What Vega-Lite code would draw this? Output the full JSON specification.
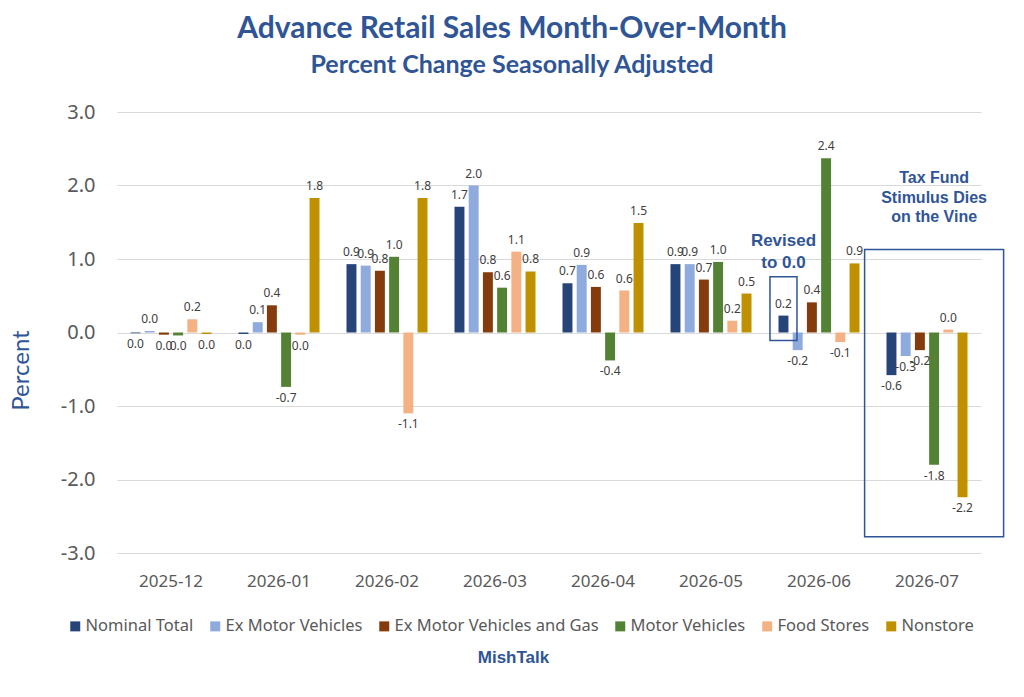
{
  "$schema": "https://vega.github.io/schema/vega-lite/v6.json",
  "autosize": {"type": "none"},
  "width": 864,
  "height": 441,
  "padding": {"left": 117, "top": 112, "right": 43, "bottom": 144},
  "background": "white",
  "config": {
    "view": {"stroke": null},
    "locale": {"number": {"decimal": ".", "thousands": ",", "grouping": [3], "currency": ["$", ""], "minus": "-"}},
    "font": "Noto Sans"
  },
  "title": {
    "text": "Advance Retail Sales Month-Over-Month",
    "subtitle": "Percent Change Seasonally Adjusted",
    "anchor": "middle",
    "frame": "group",
    "dx": -37,
    "offset": 24,
    "font": "Lato",
    "fontSize": 30,
    "fontWeight": "bold",
    "color": "#2F5597",
    "subtitleFont": "Lato",
    "subtitleFontSize": 25,
    "subtitleFontWeight": "bold",
    "subtitleColor": "#2F5597",
    "subtitlePadding": 9
  },
  "datasets": {
    "sales": [
      {"month": "2025-12", "series": "Nominal Total", "value": -0.01},
      {"month": "2025-12", "series": "Ex Motor Vehicles", "value": 0.02},
      {"month": "2025-12", "series": "Ex Motor Vehicles and Gas", "value": -0.03},
      {"month": "2025-12", "series": "Motor Vehicles", "value": -0.04},
      {"month": "2025-12", "series": "Food Stores", "value": 0.18},
      {"month": "2025-12", "series": "Nonstore", "value": -0.02},
      {"month": "2026-01", "series": "Nominal Total", "value": -0.02},
      {"month": "2026-01", "series": "Ex Motor Vehicles", "value": 0.14},
      {"month": "2026-01", "series": "Ex Motor Vehicles and Gas", "value": 0.37},
      {"month": "2026-01", "series": "Motor Vehicles", "value": -0.74},
      {"month": "2026-01", "series": "Food Stores", "value": -0.03},
      {"month": "2026-01", "series": "Nonstore", "value": 1.83},
      {"month": "2026-02", "series": "Nominal Total", "value": 0.93},
      {"month": "2026-02", "series": "Ex Motor Vehicles", "value": 0.91},
      {"month": "2026-02", "series": "Ex Motor Vehicles and Gas", "value": 0.84},
      {"month": "2026-02", "series": "Motor Vehicles", "value": 1.03},
      {"month": "2026-02", "series": "Food Stores", "value": -1.1},
      {"month": "2026-02", "series": "Nonstore", "value": 1.83},
      {"month": "2026-03", "series": "Nominal Total", "value": 1.71},
      {"month": "2026-03", "series": "Ex Motor Vehicles", "value": 2.0},
      {"month": "2026-03", "series": "Ex Motor Vehicles and Gas", "value": 0.82},
      {"month": "2026-03", "series": "Motor Vehicles", "value": 0.61},
      {"month": "2026-03", "series": "Food Stores", "value": 1.1},
      {"month": "2026-03", "series": "Nonstore", "value": 0.83},
      {"month": "2026-04", "series": "Nominal Total", "value": 0.67},
      {"month": "2026-04", "series": "Ex Motor Vehicles", "value": 0.92},
      {"month": "2026-04", "series": "Ex Motor Vehicles and Gas", "value": 0.62},
      {"month": "2026-04", "series": "Motor Vehicles", "value": -0.38},
      {"month": "2026-04", "series": "Food Stores", "value": 0.57},
      {"month": "2026-04", "series": "Nonstore", "value": 1.49},
      {"month": "2026-05", "series": "Nominal Total", "value": 0.93},
      {"month": "2026-05", "series": "Ex Motor Vehicles", "value": 0.93},
      {"month": "2026-05", "series": "Ex Motor Vehicles and Gas", "value": 0.72},
      {"month": "2026-05", "series": "Motor Vehicles", "value": 0.96},
      {"month": "2026-05", "series": "Food Stores", "value": 0.16},
      {"month": "2026-05", "series": "Nonstore", "value": 0.53},
      {"month": "2026-06", "series": "Nominal Total", "value": 0.23},
      {"month": "2026-06", "series": "Ex Motor Vehicles", "value": -0.24},
      {"month": "2026-06", "series": "Ex Motor Vehicles and Gas", "value": 0.41},
      {"month": "2026-06", "series": "Motor Vehicles", "value": 2.37},
      {"month": "2026-06", "series": "Food Stores", "value": -0.13},
      {"month": "2026-06", "series": "Nonstore", "value": 0.94},
      {"month": "2026-07", "series": "Nominal Total", "value": -0.58},
      {"month": "2026-07", "series": "Ex Motor Vehicles", "value": -0.32},
      {"month": "2026-07", "series": "Ex Motor Vehicles and Gas", "value": -0.24},
      {"month": "2026-07", "series": "Motor Vehicles", "value": -1.8},
      {"month": "2026-07", "series": "Food Stores", "value": 0.04},
      {"month": "2026-07", "series": "Nonstore", "value": -2.24}
    ],
    "bigbox": [
      {"month": "2026-07", "series": "Motor Vehicles", "top": 1.13, "bottom": -2.78}
    ],
    "smallbox": [
      {"month": "2026-06", "series": "Nominal Total", "top": 0.76, "bottom": -0.11}
    ],
    "revised": [
      {"month": "2026-06", "series": "Nominal Total", "y": 1.24, "label": "Revised\nto 0.0"}
    ],
    "stimulus": [
      {"month": "2026-07", "series": "Motor Vehicles", "y": 2.1, "label": "Tax Fund\nStimulus Dies\non the Vine"}
    ]
  },
  "encoding": {
    "x": {
      "field": "month",
      "type": "nominal",
      "scale": {"paddingInner": 0.25, "paddingOuter": 0.125},
      "axis": {
        "title": "MishTalk",
        "titleFont": "Liberation Sans",
        "titleFontSize": 17,
        "titleFontWeight": "bold",
        "titleColor": "#2F5597",
        "titleX": 396,
        "titleY": 104,
        "titleBaseline": "middle",
        "labelAngle": 0,
        "labelFontSize": 17,
        "labelColor": "#595959",
        "labelPadding": 20,
        "domain": false,
        "ticks": false,
        "grid": false
      }
    }
  },
  "layer": [
    {
      "data": {"name": "sales"},
      "mark": {"type": "bar"},
      "encoding": {
        "xOffset": {
          "field": "series",
          "type": "nominal",
          "sort": ["Nominal Total", "Ex Motor Vehicles", "Ex Motor Vehicles and Gas", "Motor Vehicles", "Food Stores", "Nonstore"],
          "scale": {"paddingInner": 0.3, "paddingOuter": 0}
        },
        "y": {
          "field": "value",
          "type": "quantitative",
          "scale": {"domain": [-3, 3], "nice": false},
          "axis": {
            "title": "Percent",
            "titleFont": "Lato",
            "titleFontSize": 24,
            "titleFontWeight": "normal",
            "titleColor": "#2F5597",
            "titleX": -96,
            "titleY": 258,
            "titleBaseline": "middle",
            "values": [-3, -2, -1, 0, 1, 2, 3],
            "format": ".1f",
            "labelFontSize": 20,
            "labelColor": "#595959",
            "labelPadding": 22,
            "domain": false,
            "ticks": false,
            "gridColor": "#D9D9D9",
            "gridWidth": 1.2
          }
        },
        "color": {
          "field": "series",
          "type": "nominal",
          "sort": ["Nominal Total", "Ex Motor Vehicles", "Ex Motor Vehicles and Gas", "Motor Vehicles", "Food Stores", "Nonstore"],
          "scale": {
            "domain": ["Nominal Total", "Ex Motor Vehicles", "Ex Motor Vehicles and Gas", "Motor Vehicles", "Food Stores", "Nonstore"],
            "range": ["#264478", "#8FAADC", "#843C0C", "#548235", "#F4B183", "#BF9000"]
          },
          "legend": {
            "title": null,
            "orient": "none",
            "legendX": -50,
            "legendY": 506,
            "direction": "horizontal",
            "symbolType": "square",
            "symbolSize": 100,
            "symbolStrokeWidth": 0,
            "labelFontSize": 16.5,
            "labelColor": "#595959",
            "labelOffset": 2,
            "labelLimit": 0,
            "columnPadding": 13
          }
        }
      }
    },
    {
      "data": {"name": "sales"},
      "transform": [{"filter": "datum.value >= 0"}],
      "mark": {"type": "text", "baseline": "bottom", "dy": -5, "fontSize": 12, "color": "#404040"},
      "encoding": {
        "xOffset": {"field": "series", "type": "nominal", "sort": ["Nominal Total", "Ex Motor Vehicles", "Ex Motor Vehicles and Gas", "Motor Vehicles", "Food Stores", "Nonstore"]},
        "y": {"field": "value", "type": "quantitative"},
        "text": {"field": "value", "type": "quantitative", "format": ".1f"}
      }
    },
    {
      "data": {"name": "sales"},
      "transform": [{"filter": "datum.value < 0"}],
      "mark": {"type": "text", "baseline": "top", "dy": 6, "fontSize": 12, "color": "#404040"},
      "encoding": {
        "xOffset": {"field": "series", "type": "nominal", "sort": ["Nominal Total", "Ex Motor Vehicles", "Ex Motor Vehicles and Gas", "Motor Vehicles", "Food Stores", "Nonstore"]},
        "y": {"field": "value", "type": "quantitative"},
        "text": {"field": "value", "type": "quantitative", "format": ".1f"}
      }
    },
    {
      "data": {"name": "bigbox"},
      "mark": {"type": "bar", "fillOpacity": 0, "stroke": "#2F5597", "strokeWidth": 1.5, "width": 139},
      "encoding": {
        "xOffset": {"field": "series", "type": "nominal", "sort": ["Nominal Total", "Ex Motor Vehicles", "Ex Motor Vehicles and Gas", "Motor Vehicles", "Food Stores", "Nonstore"]},
        "y": {"field": "top", "type": "quantitative"},
        "y2": {"field": "bottom"}
      }
    },
    {
      "data": {"name": "smallbox"},
      "mark": {"type": "bar", "fillOpacity": 0, "stroke": "#2F5597", "strokeWidth": 1.5, "width": 27},
      "encoding": {
        "xOffset": {"field": "series", "type": "nominal", "sort": ["Nominal Total", "Ex Motor Vehicles", "Ex Motor Vehicles and Gas", "Motor Vehicles", "Food Stores", "Nonstore"]},
        "y": {"field": "top", "type": "quantitative"},
        "y2": {"field": "bottom"}
      }
    },
    {
      "data": {"name": "revised"},
      "mark": {"type": "text", "font": "Liberation Sans", "fontSize": 17, "fontWeight": "bold", "color": "#2F5597", "lineBreak": "\n", "lineHeight": 22, "baseline": "middle", "align": "center"},
      "encoding": {
        "xOffset": {"field": "series", "type": "nominal", "sort": ["Nominal Total", "Ex Motor Vehicles", "Ex Motor Vehicles and Gas", "Motor Vehicles", "Food Stores", "Nonstore"]},
        "y": {"field": "y", "type": "quantitative"},
        "text": {"field": "label"}
      }
    },
    {
      "data": {"name": "stimulus"},
      "mark": {"type": "text", "font": "Liberation Sans", "fontSize": 16, "fontWeight": "bold", "color": "#2F5597", "lineBreak": "\n", "lineHeight": 19.5, "baseline": "middle", "align": "center"},
      "encoding": {
        "xOffset": {"field": "series", "type": "nominal", "sort": ["Nominal Total", "Ex Motor Vehicles", "Ex Motor Vehicles and Gas", "Motor Vehicles", "Food Stores", "Nonstore"]},
        "y": {"field": "y", "type": "quantitative"},
        "text": {"field": "label"}
      }
    }
  ]
}
